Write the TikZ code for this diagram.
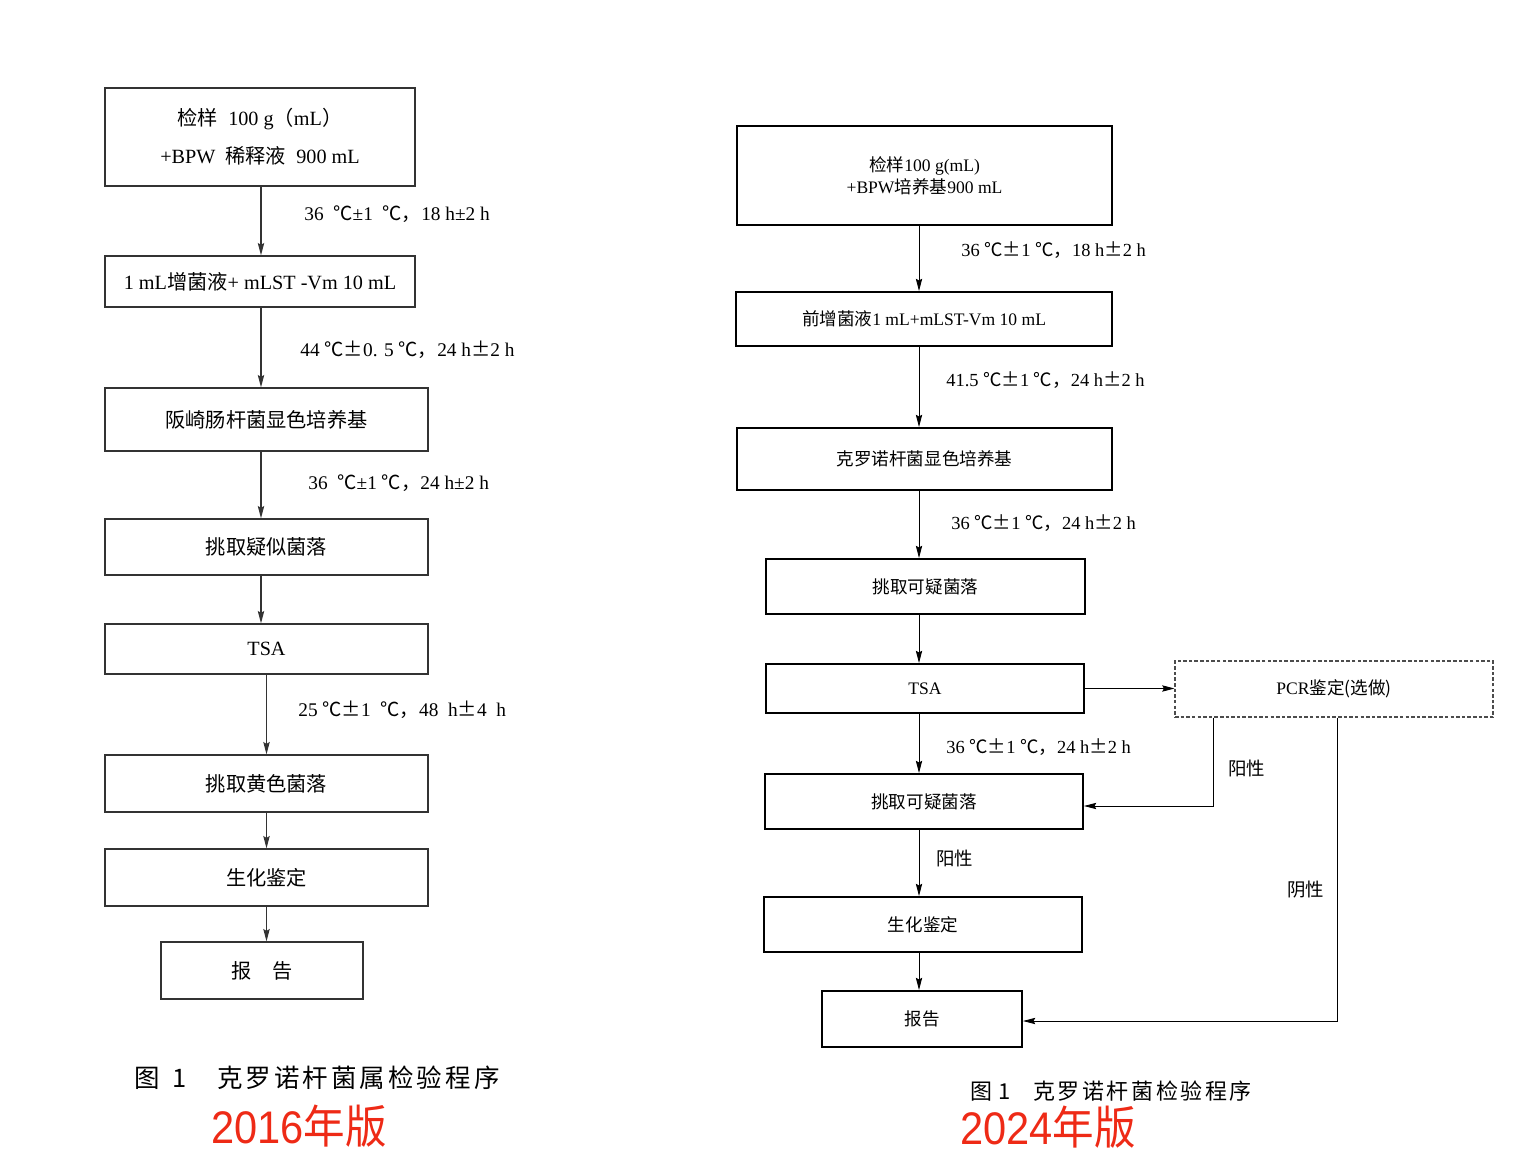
\documentclass[tikz,border=0pt]{standalone}
\usepackage{fontspec}
\setmainfont{Liberation Serif}
\newfontfamily\cjk{Noto Sans CJK SC}
\newfontfamily\cjkcap[LetterSpace=12]{Noto Sans CJK SC}
\newfontfamily\redsans{Liberation Sans}
\usetikzlibrary{arrows.meta}
\tikzset{>={Stealth[length=7pt,width=3.6pt,inset=1pt]}}
\newdimen\pxu \pxu=0.02cm
\definecolor{verred}{RGB}{238,42,22}

\begin{document}
\begin{tikzpicture}[x=0.02cm,y=-0.02cm]

\tikzstyle{lbox}=[draw=black!80,line width=0.7pt,inner sep=0pt,align=center,font=\fontsize{11.5}{21.6}\selectfont]
\tikzstyle{rbox}=[draw=black,line width=1.1pt,inner sep=0pt,align=center,font=\fontsize{10}{12.5}\selectfont]
\tikzstyle{llab}=[anchor=west,inner sep=0pt,font=\fontsize{11}{13}\selectfont]
\tikzstyle{rlab}=[anchor=west,inner sep=0pt,font=\fontsize{10.5}{13}\selectfont]
\tikzstyle{lline}=[->,draw=black!80,line width=0.7pt]
\tikzstyle{rline}=[->,line width=0.5pt]
\tikzstyle{ver}=[text=verred,inner sep=0pt,anchor=base west,xscale=0.91,font=\redsans\fontsize{26}{28}\selectfont]

\useasboundingbox (0,0) rectangle (1513,1151);

\coordinate (lx) at (261,0);
\coordinate (rx) at (919,0);

% 2016
\node[lbox,minimum width=310*\pxu,minimum height=98*\pxu] (l1) at (260,137)
  {{\cjk 检样}\ \ 100 g{\cjk （}mL{\cjk ）}\\+BPW\ \ {\cjk 稀释液}\ \ 900 mL};
\node[lbox,minimum width=310*\pxu,minimum height=51*\pxu] (l2) at (260,281.5)
  {1 mL{\cjk 增菌液}+ mLST -Vm 10 mL};
\node[lbox,minimum width=323*\pxu,minimum height=63*\pxu] (l3) at (266.5,419.5)
  {\cjk 阪崎肠杆菌显色培养基};
\node[lbox,minimum width=323*\pxu,minimum height=56*\pxu] (l4) at (266.5,547) {\cjk 挑取疑似菌落};
\node[lbox,minimum width=323*\pxu,minimum height=50*\pxu] (l5) at (266.5,649) {TSA};
\node[lbox,minimum width=323*\pxu,minimum height=57*\pxu] (l6) at (266.5,783.5) {\cjk 挑取黄色菌落};
\node[lbox,minimum width=323*\pxu,minimum height=57*\pxu] (l7) at (266.5,877.5) {\cjk 生化鉴定};
\node[lbox,minimum width=202*\pxu,minimum height=57*\pxu] (l8) at (262,970.5) {\cjk 报　告};

\draw[lline] (l1.south -| lx) -- (l2.north -| lx);
\draw[lline] (l2.south -| lx) -- (l3.north -| lx);
\draw[lline] (l3.south -| lx) -- (l4.north -| lx);
\draw[lline] (l4.south -| lx) -- (l5.north -| lx);
\draw[lline] (l5.south) -- (l5.south |- l6.north);
\draw[lline] (l6.south) -- (l6.south |- l7.north);
\draw[lline] (l7.south) -- (l7.south |- l8.north);

\node[llab] (c1) at (304,214) {36\ \ {\cjk ℃}±1\ \ {\cjk ℃，}18 h±2 h};
\node[llab] (c2) at (300,350) {44 {\cjk ℃±}0. 5 {\cjk ℃，}24 h{\cjk ±}2 h};
\node[llab] (c3) at (308,483) {36\ \ {\cjk ℃}±1 {\cjk ℃，}24 h±2 h};
\node[llab] (c4) at (298,710) {25 {\cjk ℃±}1\ \ {\cjk ℃，}48\ \ h{\cjk ±}4\ \ h};

\node[anchor=west,inner sep=0pt,font=\cjkcap\fontsize{14.5}{16}\selectfont] (cap1) at (134,1078)
  {图\hspace{0.5em}1\hspace{1.2em}克罗诺杆菌属检验程序};
\node[ver] (v1) at (211,1143) {2016{\cjk 年版}};

% 2024
\node[rbox,minimum width=375*\pxu,minimum height=99*\pxu] (r1) at (924.5,175.5)
  {{\cjk 检样}100 g(mL)\\+BPW{\cjk 培养基}900 mL};
\node[rbox,minimum width=376*\pxu,minimum height=54*\pxu] (r2) at (924,319)
  {{\cjk 前增菌液}1 mL+mLST-Vm 10 mL};
\node[rbox,minimum width=375*\pxu,minimum height=62*\pxu] (r3) at (924.5,459)
  {\cjk 克罗诺杆菌显色培养基};
\node[rbox,minimum width=319*\pxu,minimum height=55*\pxu] (r4) at (925.5,586.5) {\cjk 挑取可疑菌落};
\node[rbox,minimum width=318*\pxu,minimum height=49*\pxu] (r5) at (925,688.5) {TSA};
\node[rbox,draw=black!70,line width=0.6pt,dash pattern=on 2pt off 1.2pt,
      minimum width=318*\pxu,minimum height=56*\pxu] (pcr) at (1334,689) {PCR{\cjk 鉴定(选做)}};
\node[rbox,minimum width=318*\pxu,minimum height=55*\pxu] (r6) at (924,801.5) {\cjk 挑取可疑菌落};
\node[rbox,minimum width=318*\pxu,minimum height=55*\pxu] (r7) at (923,924.5) {\cjk 生化鉴定};
\node[rbox,minimum width=200*\pxu,minimum height=56*\pxu] (r8) at (922,1019) {\cjk 报告};

\draw[rline] (r1.south -| rx) -- (r2.north -| rx);
\draw[rline] (r2.south -| rx) -- (r3.north -| rx);
\draw[rline] (r3.south -| rx) -- (r4.north -| rx);
\draw[rline] (r4.south -| rx) -- (r5.north -| rx);
\draw[rline] (r5.south -| rx) -- (r6.north -| rx);
\draw[rline] (r6.south -| rx) -- (r7.north -| rx);
\draw[rline] (r7.south -| rx) -- (r8.north -| rx);
\draw[rline] (r5.east) -- (r5.east -| pcr.west);
\draw[rline] ([xshift=-121*\pxu]pcr.south) |- ([yshift=-4.5*\pxu]r6.east);
\draw[rline] ([xshift=3*\pxu]pcr.south) |- ([yshift=-2*\pxu]r8.east);

\node[rlab] (d1) at (961,250) {36 {\cjk ℃±}1 {\cjk ℃，}18 h{\cjk ±}2 h};
\node[rlab] (d2) at (946,380) {41.5 {\cjk ℃±}1 {\cjk ℃，}24 h{\cjk ±}2 h};
\node[rlab] (d3) at (951,523) {36 {\cjk ℃±}1 {\cjk ℃，}24 h{\cjk ±}2 h};
\node[rlab] (d4) at (946,747) {36 {\cjk ℃±}1 {\cjk ℃，}24 h{\cjk ±}2 h};
\node[rlab] (p1) at (1228,768) {\cjk 阳性};
\node[rlab] (p2) at (936,858) {\cjk 阳性};
\node[rlab] (n1) at (1287,890) {\cjk 阴性};

\node[anchor=west,inner sep=0pt,font=\cjkcap\fontsize{12.5}{14}\selectfont] (cap2) at (970,1091)
  {图\hspace{0.3em}1\hspace{1em}克罗诺杆菌检验程序};
\node[ver] (v2) at (960,1144) {2024{\cjk 年版}};

\end{tikzpicture}
\end{document}
